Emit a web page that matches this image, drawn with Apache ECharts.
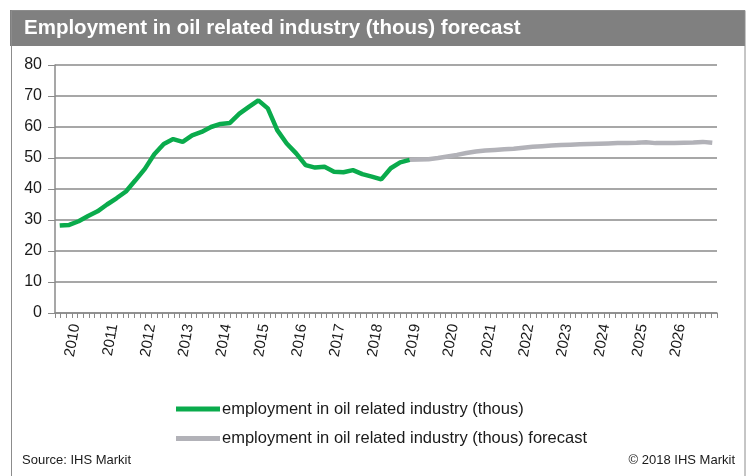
<!DOCTYPE html>
<html>
<head>
<meta charset="utf-8">
<script src="https://cdn.jsdelivr.net/npm/echarts@6/dist/echarts.min.js"></script>
<style>
  html, body { margin: 0; padding: 0; background: #ffffff; }
  #chart { width: 750px; height: 476px; }
</style>
</head>
<body>
<div id="chart"></div>
<script>
// Quarterly series, first quarter is 2010 Q1
const startYear = 2010;

// Actual employment, 2010 Q1 .. 2019 Q2 (thous)
const actualValues = [
  28.2, 28.4, 29.6, 31.3, 32.8, 35.0, 37.0, 39.2, 42.8, 46.5,
  51.2, 54.5, 56.1, 55.2, 57.3, 58.4, 60.0, 61.0, 61.3, 64.3,
  66.5, 68.6, 66.0, 59.0, 54.7, 51.5, 47.7, 46.9, 47.2, 45.6,
  45.4, 46.1, 44.8, 44.0, 43.1, 46.7, 48.6, 49.4
];

// Forecast, 2019 Q2 .. 2027 Q2 (thous)
const forecastStart = 37; // quarter index where the forecast begins
const forecastValues = [
  49.4, 49.5, 49.6, 50.0, 50.5, 51.0, 51.6, 52.1, 52.4, 52.6,
  52.8, 53.0, 53.3, 53.6, 53.8, 54.0, 54.2, 54.3, 54.4, 54.5,
  54.6, 54.7, 54.8, 54.8, 54.9, 55.1, 54.8, 54.8, 54.8, 54.9,
  55.0, 55.2, 54.9
];

const yearLabels = ['2010','2011','2012','2013','2014','2015','2016','2017','2018',
  '2019','2020','2021','2022','2023','2024','2025','2026','2027'];

const seriesNames = [
  'employment in oil related industry (thous)',
  'employment in oil related industry (thous) forecast'
];

const axisMin = 2010, axisMax = 2027.5;

// month categories used to place the year labels mid-year
const months = [];
yearLabels.forEach(function (y) {
  for (let m = 1; m <= 12; m++) {
    if (+y + (m - 1) / 12 < axisMax) months.push(y + '-' + m);
  }
});

function quarterPoint(i, v) { return [startYear + (i + 0.5) / 4, v]; }
const actualData = actualValues.map(function (v, i) { return quarterPoint(i, v); });
const forecastData = forecastValues.map(function (v, i) { return quarterPoint(forecastStart + i, v); });

const FONT = '"Liberation Sans", Arial, sans-serif';
const GREEN = '#0aab4c';
const GREY = '#b2b2b8';
const AXIS = '#8a8a8a';

const chart = echarts.init(document.getElementById('chart'), null, { renderer: 'canvas' });

chart.setOption({
  animation: false,
  backgroundColor: '#ffffff',
  graphic: [
    { type: 'rect', z: -10, shape: { x: 10, y: 10, width: 735, height: 36 }, style: { fill: '#808080' } },
    { type: 'rect', z: -10, shape: { x: 11.5, y: 10.5, width: 733.5, height: 480 },
      style: { fill: null, stroke: '#8c8c8c', lineWidth: 1 } }
  ],
  title: [
    { text: 'Employment in oil related industry (thous) forecast', left: 24, top: 18, padding: 0,
      textStyle: { color: '#ffffff', fontSize: 20.5, fontWeight: 'bold', fontFamily: FONT } },
    { text: 'Source: IHS Markit', left: 22, top: 454, padding: 0,
      textStyle: { color: '#1a1a1a', fontSize: 13, fontWeight: 'normal', fontFamily: FONT } },
    { text: '\u00a9 2018 IHS Markit', right: 15, top: 454, padding: 0,
      textStyle: { color: '#1a1a1a', fontSize: 13, fontWeight: 'normal', fontFamily: FONT } }
  ],
  legend: {
    orient: 'vertical',
    left: 176,
    top: 400.5,
    itemWidth: 44,
    itemHeight: 5,
    itemGap: 12.5,
    icon: 'rect',
    padding: 0,
    textStyle: { color: '#1a1a1a', fontSize: 16.5, fontFamily: FONT, padding: [0, 0, 0, -3] },
    data: seriesNames
  },
  grid: { left: 55, right: 33, top: 65, bottom: 163, containLabel: false },
  xAxis: [
    { // tick marks along the bottom
      type: 'value', position: 'bottom', min: 0, max: 117, interval: 1,
      axisLine: { show: true, onZero: false, lineStyle: { color: AXIS, width: 1.5 } },
      axisTick: { show: true, length: 5, lineStyle: { color: AXIS, width: 1 } },
      axisLabel: { show: false },
      splitLine: { show: false }
    },
    { // year labels placed mid-year
      type: 'category', position: 'bottom', data: months, boundaryGap: true,
      axisLine: { show: false }, axisTick: { show: false }, splitLine: { show: false },
      axisLabel: {
        interval: function (index, value) { return value.slice(5) === '7'; },
        formatter: function (value) { return value.slice(0, 4); },
        rotate: 80, margin: 11, fontSize: 15, color: '#1a1a1a', fontFamily: FONT
      }
    },
    { // data axis in years
      type: 'value', position: 'bottom', min: axisMin, max: axisMax, show: false
    }
  ],
  yAxis: {
    type: 'value', min: 0, max: 80, interval: 10,
    axisLine: { show: true, lineStyle: { color: AXIS, width: 1.5 } },
    axisTick: { show: true, length: 7, lineStyle: { color: AXIS, width: 1 } },
    axisLabel: { margin: 13, fontSize: 16, color: '#1a1a1a', fontFamily: FONT },
    splitLine: { show: true, lineStyle: { color: AXIS, width: 1.5 } }
  },
  series: [
    {
      name: seriesNames[0], type: 'line', xAxisIndex: 2, data: actualData,
      showSymbol: false, symbol: 'none', z: 3,
      lineStyle: { color: GREEN, width: 4.5 }, itemStyle: { color: GREEN }
    },
    {
      name: seriesNames[1], type: 'line', xAxisIndex: 2, data: forecastData,
      showSymbol: false, symbol: 'none', z: 2,
      lineStyle: { color: GREY, width: 4.5 }, itemStyle: { color: GREY }
    }
  ]
});
</script>
</body>
</html>
